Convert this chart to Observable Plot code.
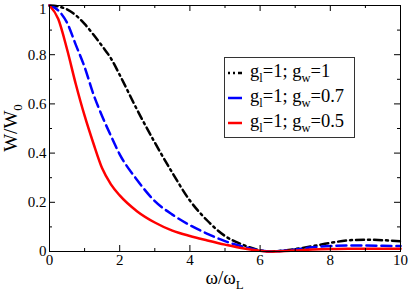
<!DOCTYPE html>
<html><head><meta charset="utf-8">
<script src="https://cdn.jsdelivr.net/npm/d3@7"></script>
<script src="https://cdn.jsdelivr.net/npm/@observablehq/plot@0.6"></script>
<style>
body{margin:0;background:#fff}
#chart{width:409px;height:292px;position:relative}
</style>
</head><body><div id="chart"></div>
<script>
// ---- data ----
const omega = [0,0.25,0.5,0.75,1,1.25,1.5,1.75,2,2.5,3,3.5,4,4.5,5,5.5,6,6.3,6.6,7,7.5,8,8.5,9,9.5,10];
const wGw1  = [1,0.996,0.984,0.96,0.925,0.882,0.835,0.785,0.718,0.575,0.443,0.32,0.207,0.125,0.063,0.028,0.005,0,0.003,0.01,0.022,0.035,0.045,0.048,0.046,0.042];
const wGw07 = [1,0.98,0.93,0.84,0.75,0.64,0.55,0.47,0.395,0.29,0.205,0.15,0.107,0.072,0.042,0.02,0.004,0,0.002,0.008,0.017,0.022,0.024,0.024,0.023,0.022];
const wGw05 = [1,0.945,0.822,0.68,0.552,0.44,0.338,0.273,0.228,0.163,0.118,0.085,0.063,0.045,0.028,0.013,0.003,0,0.001,0.004,0.008,0.01,0.011,0.011,0.011,0.011];
const legendGl = ["1","1","1"];
const legendGw = ["1","0.7","0.5"];
const xMajor = [0,2,4,6,8,10];
const xMinor = [1,3,5,7,9];
const yMajor = [0,0.2,0.4,0.6,0.8,1];
const yMinor = [0.1,0.3,0.5,0.7,0.9];

// ---- styles ----
const series = [
  {values: wGw1,  stroke: "#000000", dash: "8,4,2,4", legendDash: "2,3,2,3,6"},
  {values: wGw07, stroke: "#0000ff", dash: "10,5",    legendDash: null},
  {values: wGw05, stroke: "#ff0000", dash: null,      legendDash: null}
];
const W = 409, H = 292, mL = 49, mR = 9, mT = 5, mB = 41;
const fw = W - mL - mR, fh = H - mT - mB;
const font = "Liberation Serif";

const lineMarks = series.map(s => Plot.line(s.values, {
  x: (d, i) => omega[i], y: d => d,
  stroke: s.stroke, strokeWidth: 2.5, curve: "monotone-x",
  strokeDasharray: s.dash || undefined
}));

const svg = Plot.plot({
  width: W, height: H,
  marginLeft: mL, marginRight: mR, marginTop: mT, marginBottom: mB,
  x: {domain: [0, 10]},
  y: {domain: [0, 1]},
  style: {fontSize: "15px", background: "white", color: "black"},
  marks: [
    ...lineMarks,
    // inward ticks on all four sides
    Plot.tickX(xMajor, {x: d => d, insetTop: fh - 6, stroke: "black"}),
    Plot.tickX(xMinor, {x: d => d, insetTop: fh - 3, stroke: "black"}),
    Plot.tickX(xMajor, {x: d => d, insetBottom: fh - 6, stroke: "black"}),
    Plot.tickX(xMinor, {x: d => d, insetBottom: fh - 3, stroke: "black"}),
    Plot.tickY(yMajor, {y: d => d, insetRight: fw - 6, stroke: "black"}),
    Plot.tickY(yMinor, {y: d => d, insetRight: fw - 3, stroke: "black"}),
    Plot.tickY(yMajor, {y: d => d, insetLeft: fw - 6, stroke: "black"}),
    Plot.tickY(yMinor, {y: d => d, insetLeft: fw - 3, stroke: "black"}),
    Plot.axisX({ticks: xMajor, tickSize: 0, tickPadding: 3, tickFormat: d => String(d), label: null, fontSize: 15, fontFamily: font}),
    Plot.axisY({ticks: yMajor.slice(0, -1), tickSize: 0, tickPadding: 3, tickFormat: d => String(d), label: null, fontSize: 15, fontFamily: font}),
    Plot.axisY({ticks: yMajor.slice(-1), tickSize: 0, tickPadding: 3, dy: 4, tickFormat: d => String(d), label: null, fontSize: 15, fontFamily: font}),
    Plot.frame({stroke: "black", strokeWidth: 1})
  ]
});
document.getElementById("chart").appendChild(svg);

// ---- axis titles and legend (text with subscripts) ----
const g = d3.select(svg).append("g").attr("fill", "black").attr("text-anchor", "start");

const xt = g.append("text").attr("x", mL + fw / 2).attr("y", 284)
  .attr("text-anchor", "middle").attr("font-size", 19);
xt.append("tspan").text("ω/ω");
xt.append("tspan").attr("dy", 5).attr("font-size", 13).text("L");

const yt = g.append("text").attr("transform", `translate(17,${mT + fh / 2}) rotate(-90)`)
  .attr("text-anchor", "middle").attr("font-size", 19);
yt.append("tspan").text("W/W");
yt.append("tspan").attr("dy", 5).attr("font-size", 13).text("0");

const lg = g.append("g");
lg.append("rect").attr("x", 224.5).attr("y", 57.5).attr("width", 130).attr("height", 80)
  .attr("fill", "white").attr("stroke", "#333").attr("stroke-width", 1);
series.forEach((s, i) => {
  const cy = 73 + i * 25;
  lg.append("line").attr("x1", 228).attr("x2", 242).attr("y1", cy).attr("y2", cy)
    .attr("stroke", s.stroke).attr("stroke-width", 2.5)
    .attr("stroke-dasharray", s.legendDash);
  const t = lg.append("text").attr("x", 250).attr("y", 77 + i * 25).attr("font-size", 18.5)
    .attr("text-anchor", "start");
  t.append("tspan").text("g");
  t.append("tspan").attr("dy", 5).attr("font-size", 12.5).text("l");
  t.append("tspan").attr("dy", -5).text("=" + legendGl[i] + "; g");
  t.append("tspan").attr("dy", 5).attr("font-size", 12.5).text("w");
  t.append("tspan").attr("dy", -5).text("=" + legendGw[i]);
});

// force the serif face on every text element (inline, important)
svg.style.setProperty("font-family", "Liberation Serif, serif", "important");
svg.querySelectorAll("g, text, tspan").forEach(el => {
  el.setAttribute("font-family", font);
  el.style.setProperty("font-family", "Liberation Serif, serif", "important");
});
</script></body></html>
